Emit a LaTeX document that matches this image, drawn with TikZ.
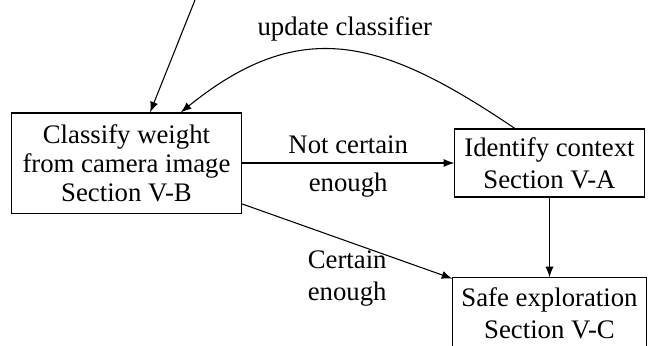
\documentclass[tikz,border=0pt]{standalone}
\usepackage{fontspec}
\setmainfont{Liberation Serif}
\usetikzlibrary{arrows.meta}
\begin{document}
\begin{tikzpicture}[x=0.3738pt,y=-0.3738pt,>=latex,
  font=\fontsize{10}{12}\selectfont,
  boxnode/.style={draw,align=center,inner sep=0pt},
  lbl/.style={align=center}]
\useasboundingbox (0,0) rectangle (650,345);
\node[boxnode,minimum width=86pt,minimum height=37.4pt,font=\fontsize{10}{10.8}\selectfont] (A) at (126.5,163) {Classify weight\\from camera image\\Section V-B};
\node[boxnode,minimum width=70.7pt,minimum height=25.4pt] (B) at (549.5,163) {Identify context\\Section V-A};
\node[boxnode,minimum width=72.2pt,minimum height=26.2pt] (C) at (549.5,313) {Safe exploration\\Section V-C};
\coordinate (in) at (195,0);
\draw[->] (in) -- (A.65);
\draw[->] (A) -- (B) node[midway,above,lbl] {Not certain} node[midway,below,lbl] {enough};
\draw[->] (A) -- (C) node[midway,below,lbl] {Certain\\enough};
\draw[->] (B) -- (C);
\draw[->] (B.135) to[out=146,in=39,looseness=1.2] node[midway,above] {update classifier} (A.43);
\end{tikzpicture}
\end{document}
